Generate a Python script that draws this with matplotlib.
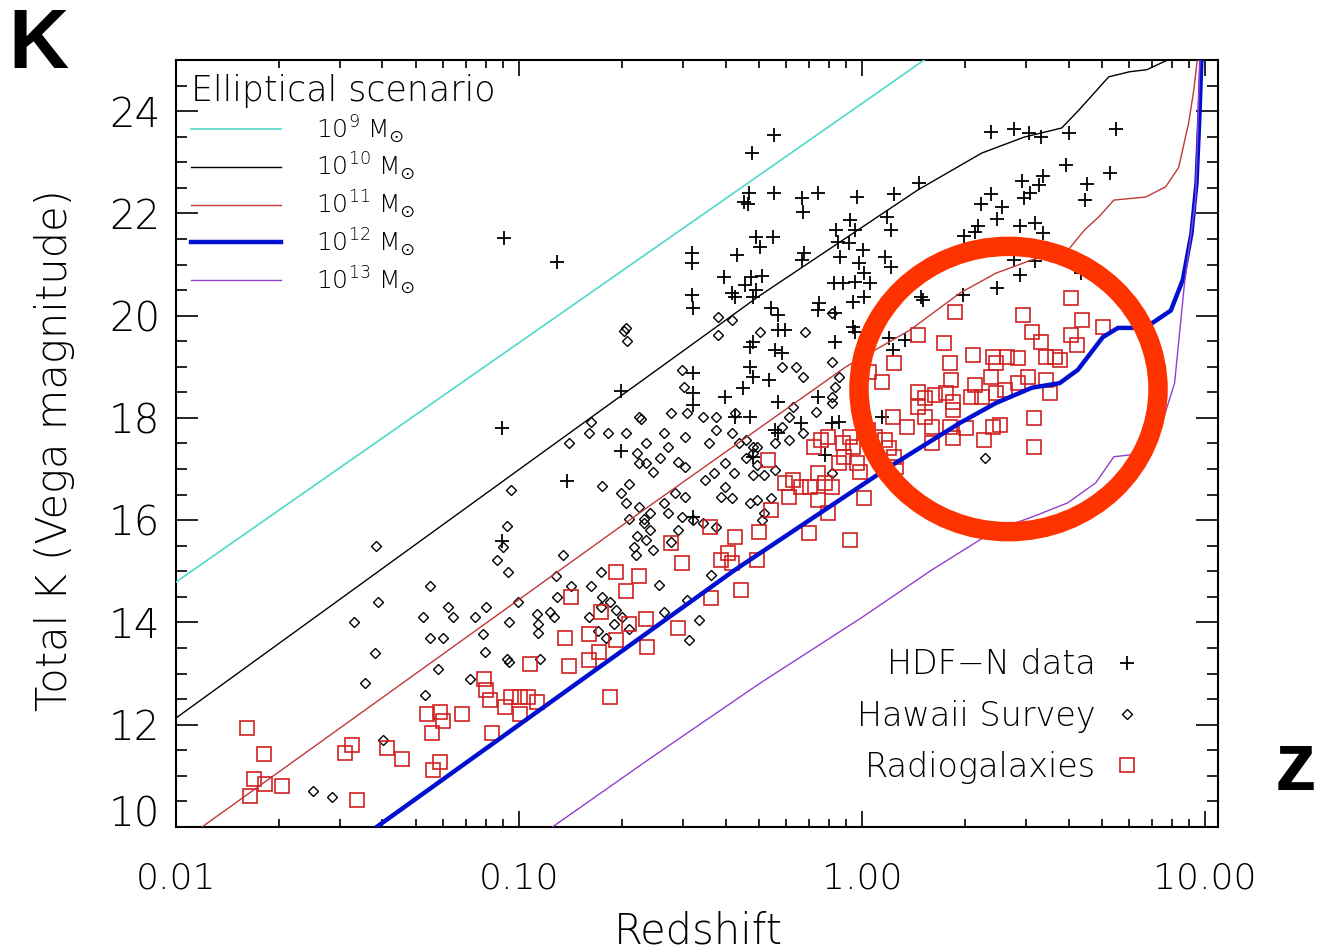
import numpy as np
import matplotlib.pyplot as plt
from matplotlib.patches import Ellipse
from matplotlib.ticker import FixedLocator, LogLocator, MultipleLocator, FuncFormatter, NullFormatter

plt.rcParams['font.family'] = ['DejaVu Sans']
plt.rcParams['font.weight'] = 'light'
plt.rcParams['axes.labelweight'] = 'light'
plt.rcParams['mathtext.fontset'] = 'dejavusans'

# elliptical model tracks, log10(z) vs total K
m9_logz = [-2.0, -1.0, 0.0, 0.2]
m9_k = [14.79, 19.47, 24.15, 25.09]

m10_logz = [-2.0, -1.0, -0.303, 0.163, 0.349, 0.472, 0.582, 0.632, 0.719, 0.78, 0.83, 0.891]
m10_k = [12.13, 16.99, 20.37, 22.46, 23.18, 23.49, 23.67, 24.02, 24.67, 24.77, 24.81, 25.0]

m11_logz = [-1.924, -1.639, -0.649, -0.047, 0.14, 0.285, 0.39, 0.495, 0.6, 0.649, 0.69,
            0.734, 0.827, 0.885, 0.923, 0.952, 0.967, 0.977]
m11_k = [10.0, 11.37, 16.14, 19.0, 19.72, 20.44, 20.83, 21.09, 21.28, 21.68, 21.93,
         22.26, 22.32, 22.52, 22.9, 23.77, 24.41, 25.0]

m12_logz = [-1.415, -0.37, 0.079, 0.285, 0.39, 0.495, 0.576, 0.629, 0.702, 0.746, 0.795,
            0.847, 0.9, 0.935, 0.96, 0.975, 0.984, 0.99]
m12_k = [10.0, 15.03, 17.04, 17.9, 18.29, 18.59, 18.68, 18.94, 19.58, 19.76, 19.76,
         19.86, 20.1, 20.7, 21.6, 22.6, 24.0, 25.2]

m13_logz = [-0.9025, -0.62, -0.3, 0.0, 0.204, 0.39, 0.495, 0.6, 0.681, 0.734, 0.786,
            0.859, 0.911, 0.94, 0.972, 0.985]
m13_k = [10.0, 11.33, 12.8, 14.1, 15.03, 15.81, 16.06, 16.34, 16.73, 17.24, 17.28,
         17.57, 18.68, 20.64, 22.26, 25.0]

# HDF-N galaxies
hdf_logz = [-1.045, -0.888, -1.051, -0.859, -0.702, -0.702, -1.051,
            -0.256, -0.320, -0.329, -0.344, -0.332, -0.256, -0.175, -0.172, -0.128, -0.015, 0.093, 0.166,
            0.376, 0.442, 0.486, 0.521, 0.603, 0.739, 0.594, 0.722, 0.655, 0.649, 0.466, 0.527, 0.515,
            0.489, 0.472, 0.376, 0.346, 0.408, 0.393, 0.338, 0.297, 0.460, 0.504, 0.527, 0.442, 0.504,
            0.460, 0.393, 0.638, 0.329,
            -0.035, -0.020, -0.076, -0.070, -0.038, 0.003, -0.009, -0.064, 0.084, 0.073, 0.067, 0.084,
            -0.169, -0.175, -0.259, -0.309, -0.297, -0.364, -0.495, -0.495, -0.402, -0.323, -0.291,
            -0.341, -0.309, -0.378, -0.495, -0.082, -0.020, 0.023, 0.172, 0.294,
            -0.079, 0.006, -0.055, -0.026, 0.006, -0.026, -0.020, -0.492, -0.265, -0.245, -0.125,
            -0.128, -0.079, -0.224, -0.245, -0.317, -0.326, -0.253, -0.233, -0.492, -0.326, -0.317,
            -0.271, -0.346, -0.399, -0.492, -0.492, -0.245, -0.370, -0.326, -0.178, -0.128, -0.087,
            -0.067, 0.058, -0.253, -0.245, -0.317, -0.492, -0.108, 0.079, 0.125, 0.090, 0.178,
            -0.370, -0.317]
hdf_k = [21.52, 21.05, 17.80, 16.77, 18.53, 17.35, 15.59,
         23.54, 23.18, 22.40, 22.22, 22.18, 22.40, 22.30, 22.03, 22.40, 22.32, 22.38, 22.60,
         23.59, 23.65, 23.57, 23.50, 23.57, 23.65, 22.95, 22.79, 22.58, 22.26, 22.64, 22.73, 22.56,
         22.40, 22.30, 22.38, 22.18, 22.13, 21.89, 21.75, 21.56, 21.75, 21.81, 21.62, 21.09, 21.07,
         20.80, 20.54, 20.84, 21.64,
         21.87, 21.68, 21.68, 21.44, 21.42, 21.29, 21.03, 21.15, 21.68, 21.93, 21.15, 20.95,
         21.23, 21.09, 21.54, 21.54, 21.34, 21.19, 21.23, 21.03, 20.76, 20.76, 20.78,
         20.60, 20.50, 20.44, 20.40, 20.64, 20.66, 20.64, 20.37, 20.40,
         19.49, 20.84, 20.64, 20.27, 20.37, 19.78, 19.68, 20.15, 20.15, 20.01, 20.25,
         20.11, 20.05, 19.72, 19.72, 19.49, 19.39, 19.33, 19.27, 18.88, 19.00, 18.80,
         18.74, 18.59, 18.41, 18.49, 18.25, 18.31, 18.02, 18.02, 17.90, 18.41, 17.90,
         17.92, 18.02, 17.76, 17.70, 17.24, 16.06, 17.28, 19.56, 19.53, 19.33, 20.31,
         20.37, 20.37]

# Hawaii survey galaxies
hawaii_logz = [-0.687, -0.693, -0.684, -0.643, -0.789, -0.795, -0.742, -0.687, -0.629, -0.853,
               -0.655, -1.022, -0.757, -0.678, -0.702, -0.687, -0.678, -0.649, -0.635, -0.655,
               -0.664, -0.658, -1.036, -1.048, -1.063, -1.033, -0.873, -0.891, -0.847, -0.789,
               -0.760, -0.757, -0.736, -0.760, -0.795, -0.771, -0.745, -0.716, -0.699, -0.722,
               -0.678, -0.888, -0.911, -0.897, -0.949, -0.946, -0.946, -1.004, -1.028, -0.940,
               -1.036, -1.028, -1.100, -1.106, -1.095, -1.129, -1.144, -1.237, -1.223, -1.260,
               -1.281, -1.193, -1.208, -1.260, -1.412, -1.482, -1.421, -1.450, -1.418, -1.275,
               -1.397, -1.601, -1.546,
               -0.419, -0.378, -0.419, -0.297, -0.166, -0.087, -0.087, -0.233, -0.192, -0.172,
               -0.524, -0.518, -0.079, -0.087, -0.067, -0.649, -0.556, -0.509, -0.463, -0.425,
               -0.370, -0.201, -0.213, -0.233, -0.134, -0.087, -0.576, -0.565, -0.515, -0.445,
               -0.425, -0.378, -0.358, -0.338, -0.306, -0.253, -0.213, -0.172, -0.649, -0.629,
               -0.608, -0.588, -0.536, -0.515, -0.457, -0.431, -0.399, -0.373, -0.338, -0.317,
               -0.306, -0.317, -0.285, -0.399, -0.410, -0.378, -0.326, -0.306, -0.265, -0.253,
               -0.087, -0.317, -0.515, -0.544, -0.565, -0.524, -0.576, -0.617, -0.637, -0.617,
               -0.536, -0.492, -0.556, -0.608, -0.629, -0.463, -0.425, -0.285, -0.291, 0.358,
               -0.591, -0.509, -0.475, -0.504, -0.440, -0.576]
hawaii_k = [19.76, 19.70, 19.51, 17.98, 17.92, 17.71, 17.71, 17.71, 17.51, 17.51,
            17.31, 16.59, 16.67, 16.71, 16.54, 16.34, 16.02, 16.26, 16.02, 15.69,
            15.47, 15.32, 15.89, 15.47, 15.22, 14.99, 15.32, 14.91, 14.71, 14.71,
            14.99, 14.50, 14.40, 14.30, 14.10, 13.83, 13.70, 14.24, 14.10, 13.97,
            13.87, 14.50, 14.20, 14.10, 14.16, 13.97, 13.79, 14.40, 14.01, 13.29,
            13.29, 13.23, 13.42, 13.77, 14.30, 14.10, 12.89, 13.09, 13.70, 13.70,
            14.10, 14.10, 14.30, 14.71, 14.40, 14.01, 13.40, 12.82, 15.49, 12.58,
            11.70, 10.70, 10.59,
            19.97, 19.92, 19.62, 19.68, 19.68, 20.05, 19.09, 19.00, 19.00, 18.80,
            18.94, 18.60, 18.60, 18.41, 18.80, 18.02, 18.10, 18.10, 18.02, 18.02,
            18.10, 18.21, 18.02, 17.82, 18.12, 18.29, 17.71, 17.43, 17.63, 17.51,
            17.76, 17.70, 17.51, 17.57, 17.43, 17.51, 17.57, 17.70, 17.12, 17.12,
            16.94, 17.22, 17.14, 17.04, 16.79, 16.92, 17.12, 16.92, 17.22, 17.31,
            17.08, 16.88, 16.88, 16.65, 16.45, 16.43, 16.34, 16.40, 16.43, 16.98,
            16.92, 17.43, 16.45, 16.54, 16.14, 16.06, 16.34, 16.14, 15.95, 15.81,
            15.81, 16.00, 15.57, 15.42, 15.61, 15.95, 15.87, 16.14, 16.00, 17.22,
            14.73, 14.44, 14.05, 13.66, 14.93, 14.20]

# radio galaxies
radio_logz = [-1.793, -1.744, -1.773, -1.741, -1.691, -1.784, -1.473, -1.508, -1.488, -1.386,
              -1.342, -1.269, -1.231, -1.223, -1.167, -1.255, -1.231, -1.252, -1.103, -1.095,
              -1.086, -1.042, -1.022, -0.998, -0.975, -0.949, -0.998, -1.080, -0.969, -0.847,
              -0.867, -0.853, -0.795, -0.795, -0.766, -0.760, -0.736, -0.716, -0.687, -0.716,
              -0.678, -0.649, -0.629, -0.626,
              0.271, 0.163, 0.093, 0.058, 0.020, 0.239, 0.256, 0.259, 0.245, 0.323,
              0.329, 0.381, 0.390, 0.376, 0.422, 0.454, 0.469, 0.495, 0.521, 0.536,
              0.562, 0.576, 0.608, 0.640, 0.608, 0.626, 0.702, 0.483, 0.454, 0.536,
              0.547, 0.416, 0.390, 0.349, 0.317, 0.163, 0.183, 0.213, 0.265, 0.265,
              0.163, 0.183, 0.090, 0.131, 0.204, 0.256, 0.303, 0.381, 0.402, 0.501,
              0.204, 0.265, 0.355, 0.501, 0.017, 0.038, 0.067, 0.079, 0.093, 0.099,
              -0.035, -0.026, -0.015, -0.006, -0.055, -0.052, -0.067, -0.099, -0.119, -0.140,
              -0.128, -0.108, -0.087, -0.151, -0.178, -0.201, -0.224, -0.213, -0.128, -0.099,
              0.006, -0.154, -0.035, -0.265, -0.274, -0.300, -0.306, -0.370, -0.390, -0.378,
              -0.410, -0.442, -0.524, -0.556, -0.440, -0.352, -0.536]
radio_k = [11.94, 11.43, 10.94, 10.84, 10.80, 10.61, 10.53, 11.45, 11.60, 11.54,
           11.33, 12.21, 12.25, 12.07, 12.21, 11.84, 11.27, 11.11, 12.89, 12.68,
           12.48, 12.35, 12.54, 12.54, 12.54, 12.44, 12.21, 11.84, 13.19, 14.50,
           13.70, 13.15, 13.77, 13.27, 13.42, 14.20, 12.54, 14.99, 14.62, 13.66,
           13.97, 14.91, 14.07, 13.52,
           20.07, 19.62, 19.07, 18.70, 18.90, 19.47, 19.07, 18.74, 18.49, 19.23,
           18.64, 19.19, 19.07, 18.80, 19.19, 19.17, 20.01, 19.68, 19.49, 19.19,
           19.19, 19.13, 20.35, 19.92, 19.62, 19.43, 19.78, 18.80, 18.69, 18.74,
           18.49, 18.55, 18.49, 18.41, 18.41, 18.51, 18.39, 18.45, 18.31, 18.16,
           18.21, 18.02, 18.02, 17.82, 17.82, 17.82, 17.80, 17.82, 17.86, 18.00,
           17.51, 17.61, 17.57, 17.43, 17.76, 17.63, 17.57, 17.41, 17.24, 17.04,
           17.63, 17.43, 17.12, 16.94, 17.51, 17.24, 17.12, 17.63, 17.57, 17.43,
           16.92, 16.73, 16.65, 16.65, 16.65, 16.79, 16.73, 16.45, 16.40, 16.14,
           16.43, 15.75, 15.61, 16.20, 17.18, 15.77, 15.22, 15.67, 15.36, 15.16,
           15.22, 15.87, 15.16, 15.56, 14.48, 14.64, 13.89]

fig = plt.figure(figsize=(13.23, 9.49), dpi=100)
ax = fig.add_axes([0.1330, 0.1286, 0.7876, 0.8082])

def z_of(logz):
    return 10 ** np.asarray(logz)

hdf_pts, = ax.plot(z_of(hdf_logz), hdf_k, linestyle='none', marker='+', ms=10, mew=1.3,
                   color='black', label='HDF\u2212N data', zorder=2)
hawaii_pts, = ax.plot(z_of(hawaii_logz), hawaii_k, linestyle='none', marker='D', ms=5.5, mew=1.0,
                      mfc='none', mec='black', label='Hawaii Survey', zorder=2)
radio_pts, = ax.plot(z_of(radio_logz), radio_k, linestyle='none', marker='s', ms=10, mew=1.2,
                     mfc='none', mec='#d02020', label='Radiogalaxies', zorder=2)

tracks = [
    (m9_logz, m9_k, '#50d8c8', 1.2, '10$^{9}$ M$_{\\odot}$'),
    (m10_logz, m10_k, 'black', 1.0, '10$^{10}$ M$_{\\odot}$'),
    (m11_logz, m11_k, '#c03838', 1.0, '10$^{11}$ M$_{\\odot}$'),
    (m12_logz, m12_k, '#0010d0', 3.2, '10$^{12}$ M$_{\\odot}$'),
    (m13_logz, m13_k, '#9040d0', 1.0, '10$^{13}$ M$_{\\odot}$'),
]
track_lines = []
for lz, k, col, lw, lab in tracks:
    ln, = ax.plot(z_of(lz), k, color=col, lw=lw, label=lab, zorder=3)
    track_lines.append(ln)

ax.set_xscale('log')
ax.set_xlim(0.01, 10.9)
ax.set_ylim(10, 25)

ax.xaxis.set_major_locator(FixedLocator([0.01, 0.1, 1.0, 10.0]))
ax.xaxis.set_major_formatter(FuncFormatter(lambda v, p: f'{v:.2f}'))
ax.xaxis.set_minor_locator(LogLocator(base=10, subs=np.arange(2, 10)))
ax.xaxis.set_minor_formatter(NullFormatter())
ax.set_yticks(np.arange(10, 25, 2))
ax.yaxis.set_minor_locator(MultipleLocator(0.5))

ax.tick_params(axis='both', which='both', direction='in', top=True, right=True, width=1.2)
ax.tick_params(axis='x', which='major', length=11.5, labelsize=26, pad=25)
ax.tick_params(axis='x', which='minor', length=6)
ax.tick_params(axis='y', which='major', length=16, labelsize=29, pad=11.5)
ax.tick_params(axis='y', which='minor', length=8)
for sp in ax.spines.values():
    sp.set_linewidth(1.5)

# lowest label sits just above the corner
ax.yaxis.get_major_ticks()[0].label1.set_va('baseline')

ax.set_xlabel('Redshift', fontsize=30)
ax.xaxis.set_label_coords(0.501, -0.135)
ax.xaxis.label.set_va('center')
ax.set_ylabel('Total K (Vega magnitude)', fontsize=30)
ax.yaxis.set_label_coords(-0.117, 0.4915)
ax.yaxis.label.set_va('center')

leg1 = ax.legend(handles=track_lines, loc='upper left', bbox_to_anchor=(0.0144, 0.982),
                 title='Elliptical scenario', title_fontsize=25, fontsize=18, frameon=False,
                 handlelength=3.6, handletextpad=1.4, labelspacing=0.22, borderpad=0,
                 borderaxespad=0, alignment='left')
leg1.get_title().set_fontweight('light')
ax.add_artist(leg1)

ax.legend(handles=[hdf_pts, hawaii_pts, radio_pts], loc='lower right',
          bbox_to_anchor=(0.929, 0.056), fontsize=24, frameon=False, markerfirst=False,
          handlelength=1.0, handletextpad=0.45, labelspacing=0.55, borderpad=0,
          borderaxespad=0)

ring = Ellipse((0.799, 0.571), 0.287, 0.372, transform=ax.transAxes, fill=False,
               edgecolor='#ff3300', lw=14, zorder=5, clip_on=False)
ax.add_patch(ring)

fig.text(8 / 1323, 1 - 68 / 949, 'K', fontsize=60, fontweight='bold',
         family='Liberation Sans', ha='left', va='baseline')
fig.text(1295 / 1323, 1 - 790 / 949, 'z', fontsize=60, fontweight='bold',
         family='Liberation Sans', ha='center', va='baseline')

fig.savefig('out.png', dpi=100)
